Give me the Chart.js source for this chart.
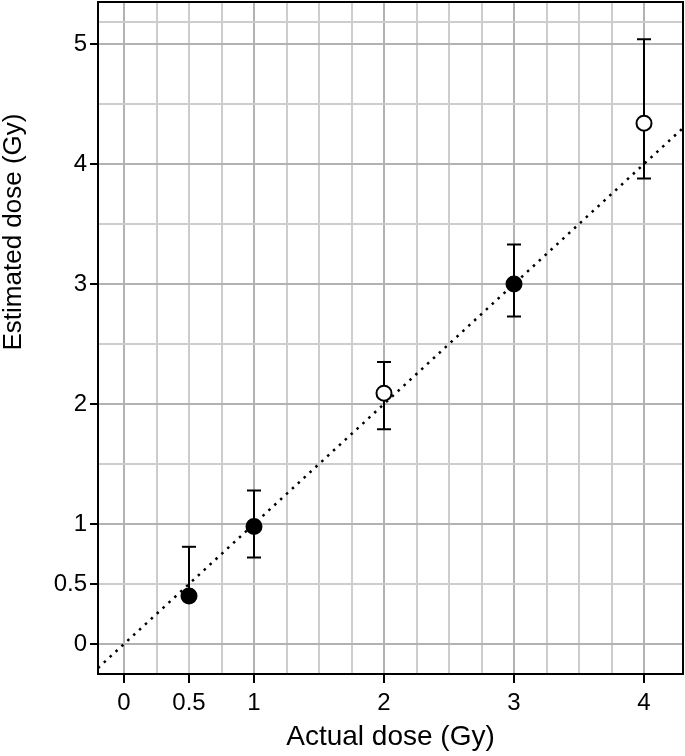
<!DOCTYPE html>
<html>
<head>
<meta charset="utf-8">
<script src="https://cdn.jsdelivr.net/npm/chart.js@4/dist/chart.umd.min.js"></script>
<style>
  html, body { margin: 0; padding: 0; background: #fff; }
  #wrap { width: 685px; height: 756px; }
</style>
</head>
<body>
<div id="wrap"><canvas id="c" width="685" height="756"></canvas></div>
<script>
// ---- Data ----
const actualDose    = [0.5, 1, 2, 3, 4];
const estimatedDose = [0.40, 0.98, 2.09, 3.00, 4.34];
const upperDose     = [0.81, 1.28, 2.35, 3.33, 5.04];
const lowerDose     = [0.40, 0.72, 1.79, 2.73, 3.88];
const filledMarker  = [true, true, false, true, false];

// identity reference line (dotted)
const refLineX = [-0.2, 4.3];
const refLineY = [-0.2, 4.3];

// grid / tick values
const xGridValues = [0, 0.25, 0.5, 0.75, 1, 1.25, 1.5, 1.75, 2, 2.25, 2.5, 2.75, 3, 3.25, 3.5, 3.75, 4];
const xTickLabels = [0, 0.5, 1, 2, 3, 4];
const yGridValues = [0, 0.5, 1, 1.5, 2, 2.5, 3, 3.5, 4, 4.5, 5, 5.18];
const yTickLabels = [0, 0.5, 1, 2, 3, 4, 5];

const xTitle = 'Actual dose (Gy)';
const yTitle = 'Estimated dose (Gy)';

const FONT = "'Liberation Sans', Arial, Helvetica, sans-serif";

const pointData = actualDose.map((x, i) => ({ x: x, y: estimatedDose[i] }));
const lineData = refLineX.map((x, i) => ({ x: x, y: refLineY[i] }));

const gridColor = (ctx) => {
  const v = ctx.tick ? ctx.tick.value : null;
  return (v !== null && Number.isInteger(v)) ? '#b2b2b2' : '#cdcdcd';
};

const errorBars = {
  id: 'errorBars',
  beforeDatasetsDraw(chart) {
    const ctx = chart.ctx;
    const xs = chart.scales.x, ys = chart.scales.y;
    ctx.save();
    ctx.strokeStyle = '#000';
    ctx.lineWidth = 2;
    const cap = 7;
    actualDose.forEach((xv, i) => {
      const px = xs.getPixelForValue(xv);
      const pu = ys.getPixelForValue(upperDose[i]);
      const pl = ys.getPixelForValue(lowerDose[i]);
      ctx.beginPath();
      ctx.moveTo(px, pu); ctx.lineTo(px, pl);
      ctx.stroke();
      ctx.beginPath();
      ctx.moveTo(px - cap, pu); ctx.lineTo(px + cap, pu);
      if (lowerDose[i] < estimatedDose[i]) { ctx.moveTo(px - cap, pl); ctx.lineTo(px + cap, pl); }
      ctx.stroke();
    });
    ctx.restore();
  }
};

const frameAndTitle = {
  id: 'frameAndTitle',
  afterDraw(chart) {
    const a = chart.chartArea;
    const ctx = chart.ctx;
    ctx.save();
    ctx.strokeStyle = '#000';
    ctx.lineWidth = 2;
    ctx.strokeRect(a.left, a.top, a.right - a.left, a.bottom - a.top);
    // y-axis title (placed as in the reference, above the vertical centre)
    ctx.translate(14, 232);
    ctx.rotate(-Math.PI / 2);
    ctx.fillStyle = '#000';
    ctx.font = '26px ' + FONT;
    ctx.textAlign = 'center';
    ctx.textBaseline = 'middle';
    ctx.fillText(yTitle, 0, 0);
    ctx.restore();
  }
};

new Chart(document.getElementById('c'), {
  type: 'scatter',
  data: {
    datasets: [
      {
        type: 'line',
        data: lineData,
        borderColor: '#000',
        borderWidth: 2.5,
        borderDash: [2.5, 5.5],
        borderCapStyle: 'butt',
        pointRadius: 0,
        fill: false,
        order: 2
      },
      {
        data: pointData,
        pointRadius: 7.5,
        pointHoverRadius: 7.5,
        pointBorderWidth: 2,
        pointBorderColor: '#000',
        pointBackgroundColor: filledMarker.map(f => f ? '#000' : '#fff'),
        order: 1
      }
    ]
  },
  options: {
    responsive: false,
    animation: false,
    layout: { autoPadding: false, padding: { top: 2, right: 2, left: 0, bottom: 0 } },
    plugins: { legend: { display: false }, tooltip: { enabled: false } },
    scales: {
      x: {
        type: 'linear',
        min: -0.2, max: 4.3,
        afterBuildTicks: (s) => { s.ticks = xGridValues.map(v => ({ value: v })); },
        afterFit: (s) => { s.height = 82; s.paddingLeft = 0; s.paddingRight = 0; },
        ticks: {
          autoSkip: false, maxRotation: 0,
          color: '#000', padding: 6,
          font: { family: FONT, size: 24 },
          callback: (v) => xTickLabels.includes(v) ? String(v) : ''
        },
        grid: {
          color: gridColor, lineWidth: 2,
          tickLength: 9, tickWidth: 2,
          tickColor: (ctx) => xTickLabels.includes(ctx.tick.value) ? '#000' : 'rgba(0,0,0,0)'
        },
        border: { display: true, color: '#000', width: 2 },
        title: {
          display: true, text: xTitle, color: '#000',
          font: { family: FONT, size: 28 }, padding: { top: 0, bottom: 2 }
        }
      },
      y: {
        type: 'linear',
        min: -0.25, max: 5.35,
        afterBuildTicks: (s) => { s.ticks = yGridValues.map(v => ({ value: v })); },
        afterFit: (s) => { s.width = 98; s.paddingTop = 0; s.paddingBottom = 0; },
        ticks: {
          autoSkip: false,
          color: '#000', padding: 3,
          font: { family: FONT, size: 24 },
          callback: (v) => yTickLabels.includes(v) ? String(v) : ''
        },
        grid: {
          color: gridColor, lineWidth: 2,
          tickLength: 8, tickWidth: 2,
          tickColor: (ctx) => yTickLabels.includes(ctx.tick.value) ? '#000' : 'rgba(0,0,0,0)'
        },
        border: { display: true, color: '#000', width: 2 }
      }
    }
  },
  plugins: [errorBars, frameAndTitle]
});
</script>
</body>
</html>
